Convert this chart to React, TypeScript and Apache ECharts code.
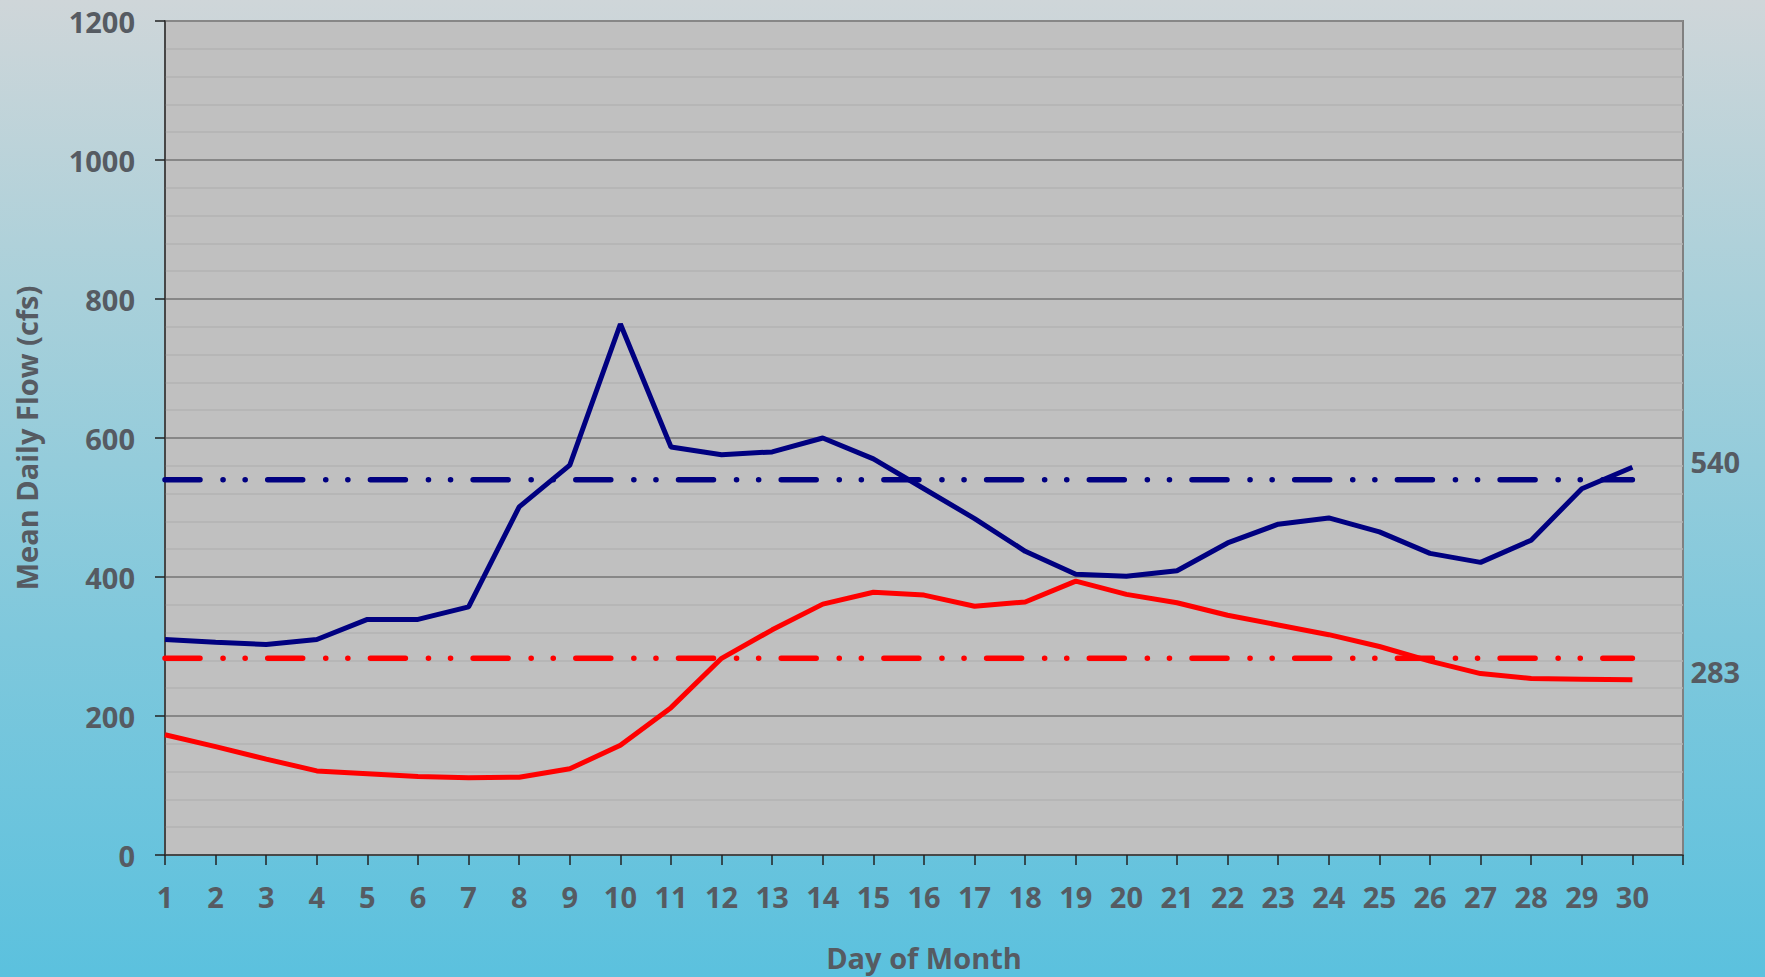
import React, { useEffect, useRef } from "react";
import * as echarts from "echarts";

const days = [1, 2, 3, 4, 5, 6, 7, 8, 9, 10, 11, 12, 13, 14, 15, 16, 17, 18, 19, 20, 21, 22, 23, 24, 25, 26, 27, 28, 29, 30];
const blueFlow = [310, 306, 303, 310, 339, 339, 357, 501, 561, 764, 587, 576, 580, 600, 570, 527, 484, 437, 404, 401, 409, 449, 476, 485, 465, 434, 421, 453, 527, 558];
const redFlow = [173, 156, 138, 121, 117, 113, 111, 112, 124, 158, 212, 283, 324, 361, 378, 374, 358, 364, 394, 375, 363, 345, 331, 317, 300, 279, 261, 254, 253, 252];
const blueMean = 540;
const redMean = 283;
const yTicks = [0, 200, 400, 600, 800, 1000, 1200];

const FONT = "Open Sans";
const TEXT = "#565b62";
const BLUE = "#000080";
const RED = "#ff0000";
const DASH = [35, 23, 0.1, 22, 0.1, 22.5];

export default function App() {
  const ref = useRef<HTMLDivElement>(null);
  useEffect(() => {
    document.body.style.margin = "0";
    const chart = echarts.init(ref.current!, null, { renderer: "svg" });
    const textStyle = { color: TEXT, fontFamily: FONT, fontSize: 29, fontWeight: "bold" as const };
    const refSeries = (val: number, color: string, offY: number) => ({
      type: "line",
      data: [[days[0], val], [days[days.length - 1], val]],
      symbol: "none",
      lineStyle: { color, width: 5.5, type: DASH, cap: "round" },
      z: 2,
      endLabel: {
        show: true,
        formatter: String(val),
        distance: 58,
        offset: [0, offY],
        ...textStyle,
      },
    });
    chart.setOption({
      animation: false,
      backgroundColor: {
        type: "linear",
        x: 0, y: 0, x2: 0, y2: 1,
        colorStops: [
          { offset: 0, color: "#cfd6d9" },
          { offset: 0.3, color: "#a9d0da" },
          { offset: 0.65, color: "#7fc8dc" },
          { offset: 1, color: "#5bc1de" },
        ],
      },
      grid: {
        left: 165, right: 82, top: 21, bottom: 120,
        show: true, backgroundColor: "#c0c0c0", borderColor: "#808080", borderWidth: 2,
      },
      xAxis: {
        type: "value",
        min: 1, max: 31, interval: 1,
        name: "Day of Month",
        nameLocation: "middle",
        nameGap: 88,
        nameTextStyle: textStyle,
        axisLine: { show: true, onZero: false, lineStyle: { color: "#333", width: 1.5 } },
        axisTick: { show: true, length: 10, lineStyle: { color: "#222", width: 1.5 } },
        axisLabel: {
          ...textStyle,
          margin: 27,
          formatter: (v: number) => (days.includes(v) ? String(v) : ""),
        },
        splitLine: { show: false },
      },
      yAxis: {
        type: "value",
        min: yTicks[0], max: yTicks[yTicks.length - 1], interval: 200,
        name: "Mean Daily Flow (cfs)",
        nameLocation: "middle",
        nameGap: 124,
        nameTextStyle: textStyle,
        axisLine: { show: true, lineStyle: { color: "#333", width: 1.5 } },
        axisTick: { show: true, length: 10, lineStyle: { color: "#222", width: 1.5 } },
        axisLabel: { ...textStyle, margin: 30, formatter: (v: number) => String(v) },
        splitLine: { show: true, lineStyle: { color: "#878787", width: 2 } },
        minorTick: { show: false, splitNumber: 5 },
        minorSplitLine: { show: true, lineStyle: { color: "#b3b3b3", width: 1.5 } },
      },
      series: [
        refSeries(blueMean, BLUE, -18),
        refSeries(redMean, RED, 13),
        {
          type: "line",
          name: "Red flow",
          data: days.map((d, i) => [d, redFlow[i]]),
          symbol: "none",
          lineStyle: { color: RED, width: 5 },
          z: 3,
        },
        {
          type: "line",
          name: "Blue flow",
          data: days.map((d, i) => [d, blueFlow[i]]),
          symbol: "none",
          lineStyle: { color: BLUE, width: 5 },
          z: 4,
        },
      ],
    });
    return () => chart.dispose();
  }, []);
  return <div ref={ref} style={{ width: 1765, height: 977 }} />;
}
